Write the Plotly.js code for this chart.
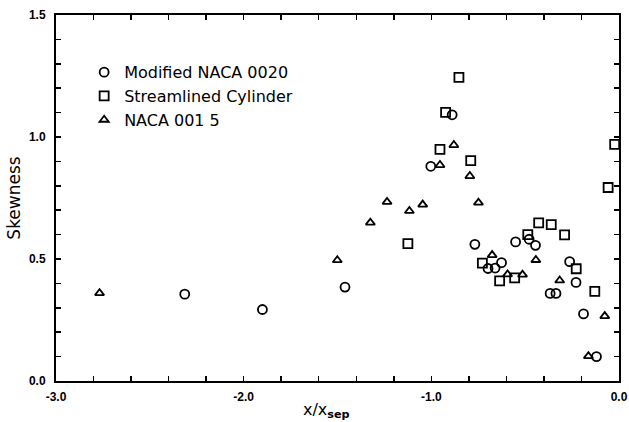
<!DOCTYPE html>
<html>
<head>
<meta charset="utf-8">
<script src="https://cdn.plot.ly/plotly-3.0.1.min.js"></script>
<style>html,body{margin:0;padding:0;background:#fff;}#chart{width:629px;height:422px;}</style>
</head>
<body>
<div id="chart"></div>
<script>
// Modified NACA 0020 (circles)
const naca0020X = [-2.314, -1.900, -1.460, -1.003, -0.889, -0.768, -0.698, -0.660, -0.626, -0.551, -0.479, -0.445, -0.367, -0.336, -0.263, -0.229, -0.189, -0.120];
const naca0020Y = [0.356, 0.293, 0.385, 0.880, 1.091, 0.560, 0.461, 0.463, 0.485, 0.570, 0.581, 0.556, 0.359, 0.359, 0.489, 0.404, 0.275, 0.100];
// Streamlined Cylinder (squares)
const cylX = [-1.125, -0.954, -0.924, -0.853, -0.790, -0.728, -0.636, -0.556, -0.486, -0.428, -0.361, -0.290, -0.228, -0.129, -0.058, -0.023];
const cylY = [0.563, 0.949, 1.101, 1.244, 0.903, 0.483, 0.410, 0.423, 0.600, 0.648, 0.641, 0.599, 0.460, 0.367, 0.793, 0.970];
// NACA 0015 (triangles)
const naca0015X = [-2.768, -1.501, -1.325, -1.236, -1.117, -1.046, -0.954, -0.880, -0.795, -0.749, -0.676, -0.594, -0.514, -0.443, -0.316, -0.163, -0.076];
const naca0015Y = [0.360, 0.495, 0.649, 0.734, 0.697, 0.723, 0.885, 0.967, 0.840, 0.731, 0.516, 0.437, 0.436, 0.496, 0.412, 0.102, 0.266];

const seriesNames = ['Modified NACA 0020', 'Streamlined Cylinder', 'NACA 001 5'];
const xTitle = 'x/x<sub><b>sep</b></sub>';
const yTitle = 'Skewness';

const xTickVals = [];
const xTickText = [];
for (let i = 0; i <= 15; i++) {
  const v = -3 + i * 0.2;
  xTickVals.push(v);
  xTickText.push(i % 5 === 0 ? v.toFixed(1) : '');
}
const yTickVals = [];
const yTickText = [];
for (let i = 0; i <= 15; i++) {
  const v = i * 0.1;
  yTickVals.push(v);
  yTickText.push(i % 5 === 0 ? v.toFixed(1) : '');
}

const mk = (sym, size) => ({symbol: sym, size: size, color: '#000', line: {color: '#000', width: 1.8}});

const traces = [
  {x: naca0020X, y: naca0020Y, name: seriesNames[0], mode: 'markers', type: 'scatter', marker: mk('circle-open', 9)},
  {x: cylX, y: cylY, name: seriesNames[1], mode: 'markers', type: 'scatter', marker: mk('square-open', 9)},
  {x: naca0015X, y: naca0015Y, name: seriesNames[2], mode: 'markers', type: 'scatter', marker: mk('triangle-up-open', 8)}
];

const axisCommon = {
  showgrid: false, zeroline: false, showline: true, linecolor: '#000', linewidth: 2,
  mirror: 'ticks', ticks: 'inside', ticklen: 5, tickwidth: 1.5, tickcolor: '#000',
  tickfont: {family: 'Liberation Sans, Arial, sans-serif', size: 12, color: '#000', weight: 'bold'}
};

const layout = {
  width: 629, height: 422,
  margin: {l: 56, r: 10, t: 15, b: 41},
  paper_bgcolor: '#fff', plot_bgcolor: '#fff',
  showlegend: true,
  legend: {
    x: 0.05, y: 0.89, xanchor: 'left', yanchor: 'top',
    bgcolor: 'rgba(0,0,0,0)', borderwidth: 0,
    font: {family: 'DejaVu Sans, sans-serif', size: 16, color: '#000'},
    tracegroupgap: 0, itemwidth: 30
  },
  xaxis: Object.assign({}, axisCommon, {
    range: [-3, 0], tickmode: 'array', tickvals: xTickVals, ticktext: xTickText,
    ticklabelstandoff: 4
  }),
  yaxis: Object.assign({}, axisCommon, {
    range: [0, 1.5], tickmode: 'array', tickvals: yTickVals, ticktext: yTickText,
    ticklabelstandoff: 6,
    title: {text: yTitle, font: {family: 'DejaVu Sans, sans-serif', size: 17, color: '#000'}, standoff: 4}
  }),
  annotations: [{
    text: xTitle, xref: 'paper', yref: 'paper', x: 0.48, y: -0.08,
    xanchor: 'center', yanchor: 'middle', showarrow: false,
    font: {family: 'DejaVu Sans, sans-serif', size: 16, color: '#000'}
  }]
};

Plotly.newPlot('chart', traces, layout, {displayModeBar: false, staticPlot: true});
</script>
</body>
</html>
